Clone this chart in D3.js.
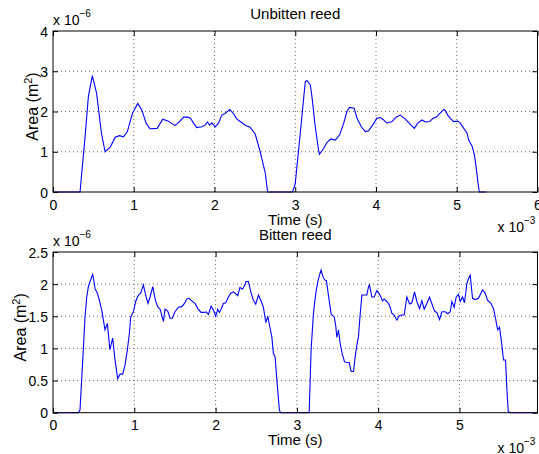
<!DOCTYPE html>
<html>
<head>
<meta charset="utf-8">
<script src="https://cdn.jsdelivr.net/npm/d3@7"></script>
<style>
  body { margin: 0; background: #fff; }
  svg { display: block; font-family: "Liberation Sans", Arial, Helvetica, sans-serif; }
</style>
</head>
<body>
<svg id="chart" width="539" height="454"></svg>
<script>
// time in units of 1e-3 s, area in units of 1e-6 m^2
const unbittenTime = [0, 0.335, 0.397, 0.438, 0.487, 0.54, 0.60, 0.645, 0.707, 0.77, 0.822, 0.872, 0.921, 0.983, 1.05, 1.10, 1.153, 1.20, 1.29, 1.36, 1.43, 1.51, 1.566, 1.616, 1.67, 1.70, 1.745, 1.78, 1.843, 1.884, 1.913, 1.938, 1.967, 2.008, 2.05, 2.09, 2.13, 2.19, 2.235, 2.277, 2.34, 2.38, 2.44, 2.504, 2.566, 2.63, 2.657, 2.967, 3.0, 3.062, 3.124, 3.145, 3.186, 3.207, 3.248, 3.289, 3.30, 3.35, 3.393, 3.44, 3.496, 3.55, 3.60, 3.64, 3.673, 3.73, 3.765, 3.818, 3.868, 3.91, 3.958, 4.01, 4.054, 4.095, 4.136, 4.199, 4.248, 4.30, 4.364, 4.425, 4.475, 4.516, 4.57, 4.611, 4.665, 4.706, 4.748, 4.789, 4.838, 4.86, 4.888, 4.921, 4.962, 5.012, 5.045, 5.087, 5.128, 5.148, 5.19, 5.219, 5.244, 5.264, 5.28, 5.368];
const unbittenArea = [0, 0, 1.37, 2.37, 2.89, 2.45, 1.46, 1.00, 1.11, 1.36, 1.40, 1.37, 1.50, 1.95, 2.20, 2.04, 1.71, 1.57, 1.58, 1.81, 1.76, 1.65, 1.75, 1.86, 1.86, 1.84, 1.70, 1.60, 1.62, 1.66, 1.74, 1.66, 1.72, 1.62, 1.71, 1.91, 1.95, 2.05, 1.95, 1.81, 1.72, 1.66, 1.61, 1.44, 1.00, 0.46, 0, 0, 0.21, 1.46, 2.74, 2.77, 2.66, 2.37, 1.62, 1.04, 0.94, 1.08, 1.23, 1.32, 1.29, 1.42, 1.71, 2.00, 2.10, 2.08, 1.83, 1.62, 1.50, 1.52, 1.66, 1.83, 1.85, 1.79, 1.71, 1.75, 1.86, 1.91, 1.81, 1.68, 1.58, 1.71, 1.79, 1.74, 1.75, 1.83, 1.86, 1.95, 2.05, 2.02, 1.91, 1.83, 1.75, 1.76, 1.71, 1.58, 1.46, 1.29, 1.14, 0.92, 0.55, 0.21, 0, 0];

const bittenTime = [0, 0.312, 0.332, 0.373, 0.394, 0.415, 0.435, 0.455, 0.488, 0.509, 0.517, 0.546, 0.57, 0.599, 0.64, 0.669, 0.70, 0.734, 0.763, 0.796, 0.825, 0.857, 0.886, 0.915, 0.94, 0.956, 0.989, 1.017, 1.05, 1.079, 1.112, 1.14, 1.169, 1.194, 1.227, 1.259, 1.288, 1.317, 1.358, 1.378, 1.412, 1.44, 1.468, 1.50, 1.543, 1.584, 1.617, 1.645, 1.674, 1.707, 1.748, 1.781, 1.822, 1.862, 1.883, 1.912, 1.945, 1.973, 2.002, 2.027, 2.047, 2.068, 2.096, 2.125, 2.158, 2.187, 2.219, 2.248, 2.273, 2.30, 2.33, 2.355, 2.375, 2.404, 2.433, 2.465, 2.494, 2.527, 2.556, 2.588, 2.618, 2.642, 2.671, 2.692, 2.711, 2.732, 2.757, 2.785, 2.80, 3.151, 3.175, 3.204, 3.233, 3.258, 3.278, 3.298, 3.319, 3.339, 3.364, 3.388, 3.422, 3.46, 3.479, 3.492, 3.512, 3.532, 3.561, 3.586, 3.615, 3.643, 3.668, 3.697, 3.717, 3.738, 3.758, 3.778, 3.80, 3.832, 3.861, 3.881, 3.893, 3.922, 3.951, 3.984, 4.008, 4.033, 4.053, 4.074, 4.107, 4.127, 4.148, 4.168, 4.197, 4.23, 4.258, 4.292, 4.32, 4.353, 4.386, 4.415, 4.447, 4.476, 4.509, 4.538, 4.566, 4.599, 4.632, 4.665, 4.693, 4.722, 4.755, 4.784, 4.825, 4.858, 4.886, 4.907, 4.935, 4.96, 4.988, 5.009, 5.038, 5.062, 5.091, 5.112, 5.132, 5.161, 5.194, 5.234, 5.284, 5.317, 5.345, 5.387, 5.419, 5.448, 5.469, 5.493, 5.522, 5.542, 5.567, 5.584, 5.60, 5.625, 5.96];
const bittenArea = [0, 0, 0.04, 0.98, 1.49, 1.80, 1.96, 2.04, 2.15, 2.01, 1.93, 1.86, 1.75, 1.60, 1.29, 1.39, 0.98, 1.16, 0.82, 0.53, 0.60, 0.60, 0.74, 0.98, 1.24, 1.49, 1.57, 1.73, 1.83, 1.86, 1.99, 1.83, 1.70, 1.80, 1.96, 1.75, 1.65, 1.61, 1.42, 1.61, 1.58, 1.47, 1.47, 1.57, 1.64, 1.65, 1.70, 1.77, 1.78, 1.74, 1.70, 1.62, 1.56, 1.56, 1.57, 1.53, 1.66, 1.60, 1.50, 1.61, 1.56, 1.61, 1.70, 1.71, 1.80, 1.86, 1.88, 1.85, 1.82, 1.95, 1.92, 1.97, 2.04, 2.04, 1.88, 1.75, 1.69, 1.83, 1.75, 1.64, 1.40, 1.50, 1.31, 1.18, 0.92, 0.87, 0.46, 0.04, 0, 0, 0.98, 1.55, 1.86, 2.04, 2.14, 2.22, 2.12, 2.07, 2.05, 1.83, 1.53, 1.49, 1.34, 1.17, 1.29, 1.08, 0.90, 0.79, 0.78, 0.78, 0.64, 0.64, 0.87, 1.05, 1.19, 1.52, 1.83, 1.83, 1.83, 1.96, 1.99, 1.80, 1.80, 1.90, 1.86, 1.80, 1.74, 1.77, 1.73, 1.70, 1.64, 1.55, 1.52, 1.44, 1.51, 1.52, 1.52, 1.80, 1.69, 1.71, 1.88, 1.73, 1.62, 1.74, 1.61, 1.70, 1.80, 1.68, 1.58, 1.56, 1.45, 1.57, 1.57, 1.54, 1.57, 1.73, 1.64, 1.80, 1.84, 1.73, 1.80, 1.71, 2.01, 2.09, 2.14, 1.78, 1.76, 1.78, 1.91, 1.86, 1.75, 1.70, 1.62, 1.44, 1.29, 1.33, 1.05, 0.82, 0.82, 0.35, 0.02, 0, 0];

const topXTicks = [0, 1, 2, 3, 4, 5, 6];
const topYTicks = [0, 1, 2, 3, 4];
const bottomXTicks = [0, 1, 2, 3, 4, 5];
const bottomYTicks = [0, 0.5, 1, 1.5, 2, 2.5];
const yTickLabelsBottom = ["0", "0.5", "1", "1.5", "2", "2.5"];

const svg = d3.select('#chart');

function drawPanel(opt) {
    const { left, right, top, bottom } = opt;
    const x = d3.scaleLinear().domain(opt.xDomain).range([left, right]);
    const y = d3.scaleLinear().domain(opt.yDomain).range([bottom, top]);
    const g = svg.append('g');

    // dotted grid
    g.append('g').selectAll('line')
        .data(opt.xTicks.filter(d => d > opt.xDomain[0] && d < opt.xDomain[1]))
        .enter().append('line')
        .attr('x1', d => x(d)).attr('x2', d => x(d))
        .attr('y1', top).attr('y2', bottom)
        .attr('stroke', '#444').attr('stroke-width', 0.8)
        .attr('stroke-dasharray', '1,3');
    g.append('g').selectAll('line')
        .data(opt.yTicks.filter(d => d > opt.yDomain[0] && d < opt.yDomain[1]))
        .enter().append('line')
        .attr('x1', left).attr('x2', right)
        .attr('y1', d => y(d)).attr('y2', d => y(d))
        .attr('stroke', '#444').attr('stroke-width', 0.8)
        .attr('stroke-dasharray', '1,3');

    // the data line
    const pts = d3.zip(opt.time, opt.area);
    g.append('path')
        .datum(pts)
        .attr('fill', 'none')
        .attr('stroke', '#0000ff')
        .attr('stroke-width', 1.1)
        .attr('d', d3.line().x(d => x(d[0])).y(d => y(d[1])));

    // axes with inward ticks
    const fmt = opt.yFormat || (d => d);
    const xb = g.append('g').attr('transform', `translate(0,${bottom})`)
        .call(d3.axisBottom(x).tickValues(opt.xTicks).tickSize(-5).tickFormat(d => d));
    const xt = g.append('g').attr('transform', `translate(0,${top})`)
        .call(d3.axisTop(x).tickValues(opt.xTicks).tickSize(-5).tickFormat(''));
    const yl = g.append('g').attr('transform', `translate(${left},0)`)
        .call(d3.axisLeft(y).tickValues(opt.yTicks).tickSize(-5).tickFormat(fmt));
    const yr = g.append('g').attr('transform', `translate(${right},0)`)
        .call(d3.axisRight(y).tickValues(opt.yTicks).tickSize(-5).tickFormat(''));

    [xb, xt, yl, yr].forEach(a => {
        a.select('.domain').remove();
        a.selectAll('line').attr('stroke', '#000');
    });
    xb.selectAll('text').attr('y', 17.5).attr('dy', 0)
        .attr('font-size', 14).attr('font-family', null).attr('fill', '#000');
    yl.selectAll('text').attr('x', -5).attr('dy', '0.36em')
        .attr('font-size', 14).attr('font-family', null).attr('fill', '#000');

    // box
    g.append('rect')
        .attr('x', left).attr('y', top)
        .attr('width', right - left).attr('height', bottom - top)
        .attr('fill', 'none').attr('stroke', '#000').attr('stroke-width', 1);

    // title
    g.append('text')
        .attr('x', (left + right) / 2).attr('y', top - 12.5)
        .attr('text-anchor', 'middle').attr('font-size', 15)
        .text(opt.title);

    // x label
    g.append('text')
        .attr('x', (left + right) / 2).attr('y', bottom + 32.5)
        .attr('text-anchor', 'middle').attr('font-size', 15)
        .text('Time (s)');

    // y label
    const yLab = g.append('text')
        .attr('transform', `translate(${opt.yLabelX},${(top + bottom) / 2 - 5}) rotate(-90)`)
        .attr('text-anchor', 'middle').attr('font-size', 16);
    yLab.append('tspan').text('Area (m');
    yLab.append('tspan').attr('dy', -6).attr('font-size', 11).text('2');
    yLab.append('tspan').attr('dy', 6).text(')');

    // exponent notes
    const ey = g.append('text')
        .attr('x', left).attr('y', top - 6).attr('font-size', 14);
    ey.append('tspan').text('x 10');
    ey.append('tspan').attr('dy', -8).attr('font-size', 10).text('\u22126');

    const ex = g.append('text')
        .attr('x', right - 40).attr('y', bottom + 40).attr('font-size', 14);
    ex.append('tspan').text('x 10');
    ex.append('tspan').attr('dy', -8).attr('font-size', 10).text('\u22123');
}

drawPanel({
    left: 53, right: 537.5, top: 31, bottom: 192,
    xDomain: [0, 6], yDomain: [0, 4],
    xTicks: topXTicks, yTicks: topYTicks,
    time: unbittenTime, area: unbittenArea,
    title: 'Unbitten reed', yLabelX: 38
});

drawPanel({
    left: 53, right: 537.5, top: 252, bottom: 412.7,
    xDomain: [0, 5.96], yDomain: [0, 2.5],
    xTicks: bottomXTicks, yTicks: bottomYTicks,
    yFormat: (d, i) => yTickLabelsBottom[i],
    time: bittenTime, area: bittenArea,
    title: 'Bitten reed', yLabelX: 25.5
});
</script>
</body>
</html>
